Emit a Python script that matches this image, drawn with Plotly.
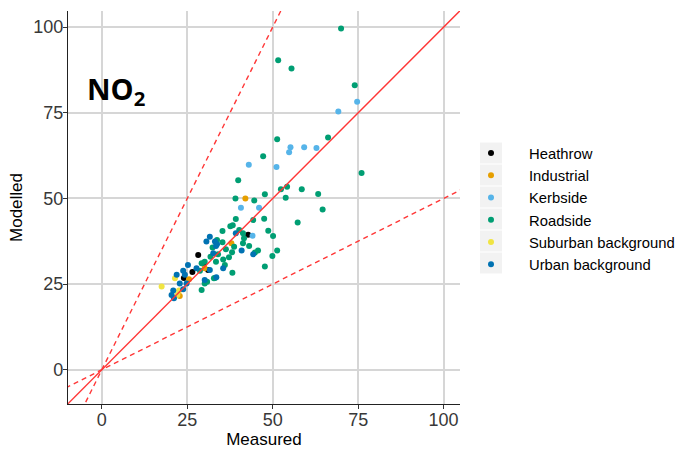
import plotly.graph_objects as go

# Measured vs modelled NO2 concentrations by site type
heathrow_x = [28.2, 29.8, 31.1, 24.0, 26.5, 42.8]
heathrow_y = [33.5, 30.9, 29.1, 26.8, 28.5, 39.4]

industrial_x = [42.0, 37.9, 30.1, 25.5, 22.8]
industrial_y = [50.0, 36.9, 29.6, 26.4, 21.5]

kerbside_x = [74.7, 69.2, 55.2, 54.8, 59.2, 62.8, 51.1, 43.0, 40.7, 46.0, 44.1]
kerbside_y = [78.2, 75.4, 64.9, 63.5, 64.9, 64.7, 59.2, 59.8, 47.3, 47.3, 39.1]

roadside_x = [70.0, 51.6, 55.5, 74.0, 51.3, 66.2, 47.2, 39.9, 76.0, 39.1,
              44.6, 47.7, 52.4, 53.8, 54.2, 58.5, 63.3, 64.6, 47.5, 57.3,
              48.7, 50.1, 51.3, 49.9, 47.7, 39.2, 44.3, 37.6, 38.3, 35.3,
              41.6, 32.4, 35.3, 41.3, 38.7, 43.1, 44.8, 45.7, 38.1, 37.2,
              35.5, 34.0, 36.0, 38.2, 33.1, 31.8, 29.2, 30.1, 28.7, 30.8,
              30.1, 32.8, 29.2, 41.3, 40.2, 33.7, 36.3, 33.4]
roadside_y = [99.6, 90.3, 87.9, 83.0, 67.3, 67.8, 62.3, 55.3, 57.4, 50.0,
              49.4, 51.2, 52.7, 50.2, 53.4, 52.7, 51.3, 46.8, 44.1, 43.0,
              40.6, 39.0, 34.8, 33.2, 30.1, 44.0, 43.7, 41.9, 42.2, 40.5,
              38.4, 35.7, 37.2, 36.9, 35.9, 36.1, 34.2, 34.8, 34.3, 32.8,
              32.2, 33.7, 30.6, 28.3, 26.8, 33.0, 31.1, 31.5, 28.9, 25.7,
              25.2, 26.7, 23.3, 39.8, 40.8, 37.9, 35.2, 31.5]

suburban_x = [17.5, 21.4, 22.6, 22.1]
suburban_y = [24.3, 26.7, 23.1, 21.8]

urban_x = [31.6, 30.6, 33.1, 39.2, 40.9, 44.3, 35.5, 31.6, 33.5, 33.4,
           32.6, 25.2, 27.7, 23.8, 24.3, 22.8, 24.8, 20.9, 23.8, 20.4,
           21.1, 33.7, 21.9, 30.1]
urban_y = [38.8, 37.4, 37.4, 39.8, 34.8, 33.7, 29.6, 29.1, 27.0, 36.1,
           34.0, 30.6, 29.6, 28.9, 27.7, 25.2, 25.2, 23.1, 23.5, 21.8,
           20.9, 36.6, 27.7, 26.2]

groups = [
    ("Heathrow", heathrow_x, heathrow_y, "#000000"),
    ("Industrial", industrial_x, industrial_y, "#E69F00"),
    ("Kerbside", kerbside_x, kerbside_y, "#56B4E9"),
    ("Roadside", roadside_x, roadside_y, "#009E73"),
    ("Suburban background", suburban_x, suburban_y, "#F0E442"),
    ("Urban background", urban_x, urban_y, "#0072B2"),
]

# reference lines: 1:1, factor of two above and below
ref_x = [-20, 120]
ref_slopes = [(1.0, "solid"), (2.0, "5px,4px"), (0.5, "5px,4px")]

x_range = [-9.9, 104.8]
y_range = [-10.0, 104.7]
ticks = [0, 25, 50, 75, 100]

fig = go.Figure()

for name, xs, ys, col in groups:
    fig.add_trace(go.Scatter(
        x=xs, y=ys, mode="markers", name=name,
        legendgroup=name,
        marker=dict(color=col, size=6, line=dict(width=0)),
    ))

for slope, dash in ref_slopes:
    fig.add_trace(go.Scatter(
        x=ref_x, y=[v * slope for v in ref_x], mode="lines",
        line=dict(color="#FF3636", width=1.4, dash=dash),
        showlegend=False, hoverinfo="skip",
    ))

# plot area in pixels (for placing legend key backgrounds)
W, H = 684, 449
L, R, T, B = 68, 224, 11, 45
pw, ph = W - L - R, H - T - B

def px_to_paper(px, py):
    return (px - L) / pw, (H - B - py) / ph

shapes = []
key_centres = [153, 175, 197, 219, 241, 263]
for cy in key_centres:
    x0, y0 = px_to_paper(480, cy + 10.5)
    x1, y1 = px_to_paper(502, cy - 10.5)
    shapes.append(dict(type="rect", xref="paper", yref="paper",
                       x0=x0, x1=x1, y0=y0, y1=y1,
                       fillcolor="#F2F2F2", line=dict(width=0), layer="below"))

fig.update_layout(
    width=W, height=H,
    margin=dict(l=L, r=R, t=T, b=B, autoexpand=False),
    plot_bgcolor="white", paper_bgcolor="white",
    font=dict(family="Liberation Sans, Arial, sans-serif", color="#000000"),
    shapes=shapes,
    showlegend=True,
    legend=dict(
        x=px_to_paper(453, 0)[0], xanchor="left",
        y=px_to_paper(0, 137)[1], yanchor="top",
        font=dict(size=14.8, color="#000000"),
        tracegroupgap=0,
        itemwidth=66,
        bgcolor="rgba(0,0,0,0)",
    ),
    annotations=[dict(
        x=-4.8, y=81.5, xref="x", yref="y", xanchor="left", yanchor="middle",
        text="<b>NO<sub>2</sub></b>", showarrow=False,
        font=dict(family="Open Sans, Liberation Sans, sans-serif", size=29, color="#000000"),
    )],
)

axis_common = dict(
    showgrid=True, gridcolor="#D6D6D6", gridwidth=1.5,
    zeroline=False, automargin=False,
    showline=True, linecolor="#222222", linewidth=1.3,
    ticks="outside", ticklen=4, tickcolor="#333333", tickwidth=1.2,
    tickvals=ticks,
    tickfont=dict(size=18, color="#383838"),
)

fig.update_xaxes(range=x_range, ticklabelstandoff=-5,
                 title=dict(text="Measured", font=dict(size=17)  , standoff=5), **axis_common)
fig.update_yaxes(range=y_range, ticklabelstandoff=-4,
                 title=dict(text="Modelled", font=dict(size=17), standoff=6), **axis_common)

fig.write_html("out.html")
